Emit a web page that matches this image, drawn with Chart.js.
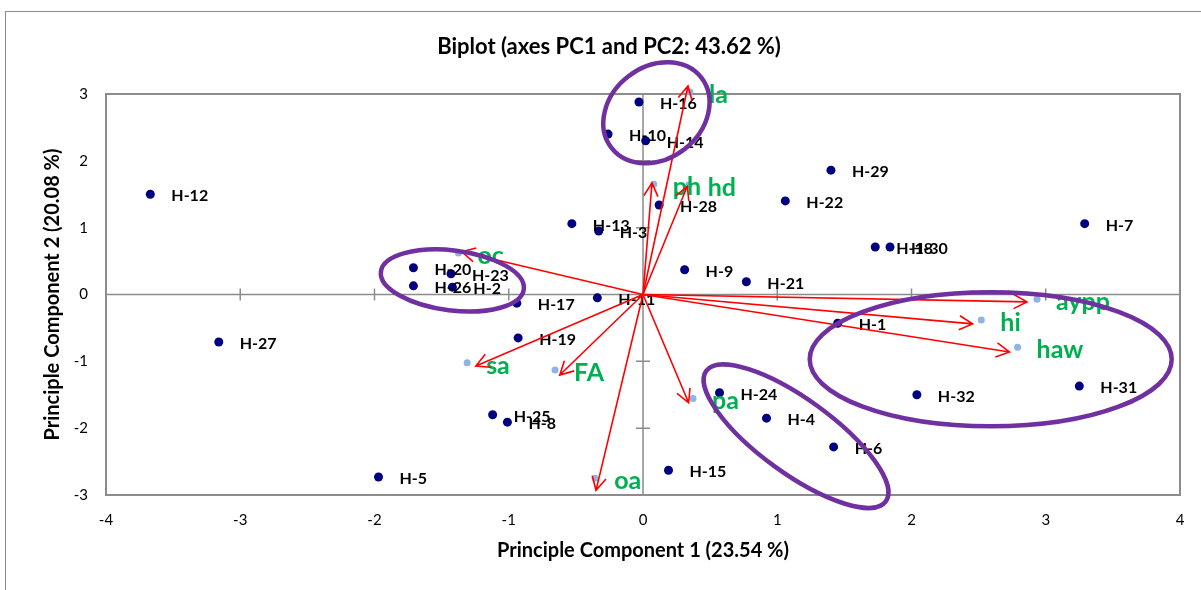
<!DOCTYPE html>
<html><head><meta charset="utf-8">
<script src="https://cdn.jsdelivr.net/npm/chart.js@4.4.0/dist/chart.umd.min.js"></script>
<style>
html,body{margin:0;padding:0;background:#fff;overflow:hidden;}
#wrap{position:relative;width:1201px;height:590px;overflow:hidden;}
#frame{position:absolute;left:5px;top:11px;width:1300px;height:700px;border:1.5px solid #8a8a8a;box-sizing:border-box;}
canvas{position:absolute;left:0;top:0;}
</style></head><body>
<div id="wrap"><div id="frame"></div><canvas id="c" width="1201" height="590"></canvas></div>
<script>
// ---- data ----
const obsLabels = ['H-1','H-2','H-3','H-4','H-5','H-6','H-7','H-8','H-9','H-10','H-11','H-12','H-13','H-14','H-15','H-16','H-17','H-18','H-19','H-20','H-21','H-22','H-23','H-24','H-25','H-26','H-27','H-28','H-29','H-30','H-31','H-32'];
const obsX = [1.45,-1.42,-0.33,0.92,-1.97,1.42,3.29,-1.01,0.31,-0.26,-0.34,-3.67,-0.53,0.02,0.19,-0.03,-0.94,1.73,-0.93,-1.71,0.77,1.06,-1.43,0.57,-1.12,-1.71,-3.16,0.12,1.40,1.84,3.25,2.04];
const obsY = [-0.43,0.11,0.95,-1.85,-2.73,-2.28,1.06,-1.91,0.37,2.40,-0.05,1.50,1.06,2.30,-2.63,2.88,-0.13,0.71,-0.65,0.40,0.19,1.40,0.31,-1.47,-1.80,0.13,-0.71,1.34,1.86,0.71,-1.37,-1.50];
const varLabels = ['la','ph','hd','oc','sa','FA','oa','pa','aypp','hi','haw'];
const varX = [0.35,0.08,0.34,-1.375,-1.31,-0.655,-0.356,0.373,2.935,2.52,2.79];
const varY = [3.03,1.65,1.64,0.62,-1.02,-1.13,-2.75,-1.555,-0.07,-0.38,-0.79];
const arrowX = [0.335,0.067,0.33,-1.35,-1.245,-0.62,-0.35,0.34,2.86,2.455,2.73];
const arrowY = [3.12,1.67,1.62,0.64,-1.07,-1.205,-2.93,-1.62,-0.11,-0.44,-0.86];
const xTickLabels = ['-4','-3','-2','-1','0','1','2','3','4'];
const yTickLabels = ['-3','-2','-1','0','1','2','3'];
const chartTitle = 'Biplot (axes PC1 and PC2: 43.62 %)';
const xTitle = 'Principle Component 1 (23.54 %)';
const yTitle = 'Principle Component 2 (20.08 %)';

// ---- annotation styles (ellipses: centre in data units, radii in px) ----
const ellipses = [
  {cx:0.10, cy:2.72, a:57, b:46, rot:-38},
  {cx:-1.42, cy:0.21, a:72, b:30, rot:7},
  {cx:1.14, cy:-2.12, a:111, b:37, rot:36},
  {cx:2.59, cy:-0.97, a:181, b:67, rot:0}
];
const FONT = 'Lato';
const GRAY = '#8c8c8c';

const biplot = {
  id:'biplot',
  beforeDatasetsDraw(chart){
    const {ctx, chartArea:a, scales:{x,y}} = chart;
    ctx.save();
    ctx.strokeStyle = GRAY; ctx.lineWidth = 2;
    ctx.strokeRect(a.left, a.top, a.right-a.left, a.bottom-a.top);
    const x0 = x.getPixelForValue(0), y0 = y.getPixelForValue(0);
    ctx.lineWidth = 1.5;
    ctx.beginPath();
    ctx.moveTo(a.left, y0); ctx.lineTo(a.right, y0);
    ctx.moveTo(x0, a.top); ctx.lineTo(x0, a.bottom);
    xTickLabels.forEach(t=>{ const v=Number(t); if(v===0||v===x.min||v===x.max) return; const px=x.getPixelForValue(v); ctx.moveTo(px,y0-6); ctx.lineTo(px,y0+6); });
    yTickLabels.forEach(t=>{ const v=Number(t); if(v===0||v===y.min||v===y.max) return; const py=y.getPixelForValue(v); ctx.moveTo(x0-7,py); ctx.lineTo(x0+7,py); });
    ctx.stroke();
    ctx.restore();
  },
  afterDatasetsDraw(chart){
    const {ctx, scales:{x,y}} = chart;
    ctx.save();
    // observation labels
    ctx.font = 'bold 16px '+FONT; ctx.fillStyle = '#000'; ctx.textBaseline='middle'; ctx.textAlign='left';
    obsLabels.forEach((l,i)=>{ ctx.fillText(l, x.getPixelForValue(obsX[i])+21, y.getPixelForValue(obsY[i])+2); });
    // variable labels
    ctx.font = 'bold 25px '+FONT; ctx.fillStyle = '#00B050';
    varLabels.forEach((l,i)=>{
      ctx.fillText(l, x.getPixelForValue(varX[i])+19, y.getPixelForValue(varY[i])+3);
    });
    // arrows
    ctx.strokeStyle = '#FF0000'; ctx.lineWidth = 1.6;
    const ox = x.getPixelForValue(0), oy = y.getPixelForValue(0);
    arrowX.forEach((v,i)=>{
      const tx = x.getPixelForValue(v), ty = y.getPixelForValue(arrowY[i]);
      const ang = Math.atan2(ty-oy, tx-ox), L=15, A=28*Math.PI/180;
      ctx.beginPath();
      ctx.moveTo(ox,oy); ctx.lineTo(tx,ty);
      ctx.moveTo(tx-L*Math.cos(ang-A), ty-L*Math.sin(ang-A)); ctx.lineTo(tx,ty);
      ctx.lineTo(tx-L*Math.cos(ang+A), ty-L*Math.sin(ang+A));
      ctx.stroke();
    });
    // ellipses
    ctx.strokeStyle = '#7030A0'; ctx.lineWidth = 4.5;
    ellipses.forEach(e=>{
      ctx.beginPath();
      ctx.ellipse(x.getPixelForValue(e.cx), y.getPixelForValue(e.cy), e.a, e.b, e.rot*Math.PI/180, 0, Math.PI*2);
      ctx.stroke();
    });
    // title
    ctx.font = 'bold 22px '+FONT; ctx.fillStyle='#000'; ctx.textAlign='center'; ctx.textBaseline='middle';
    ctx.fillText(chartTitle, 609, 47);
    ctx.restore();
  }
};

const tickFont = {family:FONT, size:15};
const titleFont = {family:FONT, size:20, weight:'bold'};
new Chart(document.getElementById('c'), {
  type:'scatter',
  data:{datasets:[
    {label:'Observations', data:obsX.map((v,i)=>({x:v,y:obsY[i]})), backgroundColor:'#000080', borderColor:'#000080', pointRadius:4.5, borderWidth:0, clip:false},
    {label:'Variables', data:varX.map((v,i)=>({x:v,y:varY[i]})), backgroundColor:'#8DB4E2', borderColor:'#8DB4E2', pointRadius:3.5, borderWidth:0, clip:false}
  ]},
  options:{
    responsive:false, animation:false, devicePixelRatio:1,
    layout:{padding:{left:8,right:21,top:94,bottom:0}},
    plugins:{legend:{display:false}, tooltip:{enabled:false}, title:{display:false}},
    scales:{
      x:{type:'linear', min:-4, max:4,
        afterBuildTicks:s=>{ s.ticks = xTickLabels.map(t=>({value:Number(t)})); },
        ticks:{padding:16, color:'#000', font:tickFont, callback:(v)=>xTickLabels[xTickLabels.map(Number).indexOf(v)]},
        grid:{display:false, drawTicks:false}, border:{display:false},
        title:{display:true, text:xTitle, color:'#000', font:titleFont, padding:{top:0,bottom:27}},
        afterFit:s=>{ s.height = 95; }
      },
      y:{type:'linear', min:-3, max:3,
        afterBuildTicks:s=>{ s.ticks = yTickLabels.map(t=>({value:Number(t)})); },
        ticks:{padding:18, color:'#000', font:tickFont, callback:(v)=>yTickLabels[yTickLabels.map(Number).indexOf(v)]},
        grid:{display:false, drawTicks:false}, border:{display:false},
        title:{display:true, text:yTitle, color:'#000', font:titleFont, padding:{top:33,bottom:0}},
        afterFit:s=>{ s.width = 98; }
      }
    }
  },
  plugins:[biplot]
});
</script>
</body></html>
